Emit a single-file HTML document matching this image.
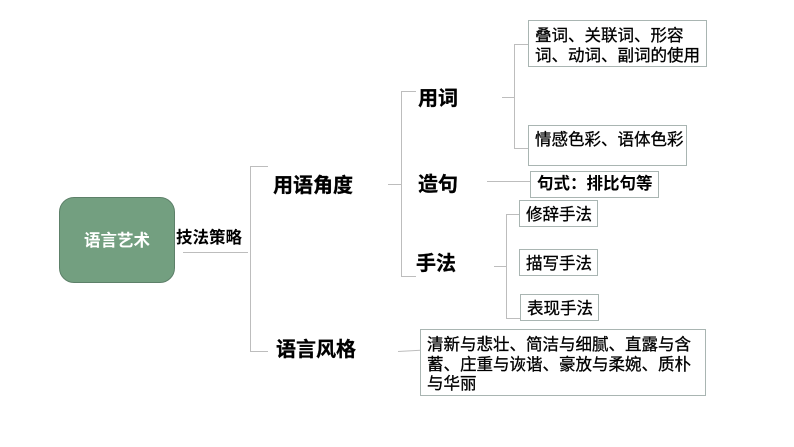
<!DOCTYPE html>
<html lang="zh">
<head>
<meta charset="utf-8">
<style>
html,body{margin:0;padding:0;background:#fff}
#c{position:relative;width:794px;height:447px;overflow:hidden;background:#fff;font-family:"Liberation Sans","Noto Sans CJK SC",sans-serif;color:#000}
.t{position:absolute;white-space:nowrap;line-height:20px;height:20px;font-size:16.5px;-webkit-text-stroke:0.3px currentColor}
.b{font-weight:700;-webkit-text-stroke:0}
.h{font-size:20px;font-weight:700;line-height:24px;height:24px;-webkit-text-stroke:0.3px #000}
.box{position:absolute;box-sizing:border-box;border:1px solid #a9b5b2;background:#fff}
svg{position:absolute;left:0;top:0}
</style>
</head>
<body>
<div id="c">
<svg width="794" height="447" fill="none" stroke="#bdbdbd" stroke-width="1">
<path d="M183 252.500H248"/>
<path d="M268 166.500H250.500V351.500H268"/>
<path d="M416 91.500H401.500V276.500H416"/>
<path d="M388 184.500H401"/>
<path d="M528 44.500H514.500V148.500H528"/>
<path d="M502 97.500H514"/>
<path d="M487 181.500H530"/>
<path d="M519 214.500H506.500V318.500H520"/>
<path d="M494 266.500H506"/>
<path d="M398 351.500L425 350"/>
</svg>
<div style="position:absolute;left:59px;top:197px;width:116px;height:86px;box-sizing:border-box;background:#739f80;border:1px solid #5d8069;border-radius:15px"></div>
<div class="t b" style="left:84px;top:231px;color:#fff">语言艺术</div>
<div class="t b" style="left:176px;top:228px">技法策略</div>
<div class="t h" style="left:273px;top:174px">用语角度</div>
<div class="t h" style="left:276px;top:338px">语言风格</div>
<div class="t h" style="left:418px;top:87px">用词</div>
<div class="t h" style="left:418px;top:173px">造句</div>
<div class="t h" style="left:416px;top:252px">手法</div>

<div class="box" style="left:528px;top:20px;width:179px;height:47px"></div>
<div class="t" style="left:535px;top:26px">叠词、关联词、形容</div>
<div class="t" style="left:535px;top:46px">词、动词、副词的使用</div>

<div class="box" style="left:528px;top:125px;width:159px;height:41px"></div>
<div class="t" style="left:535px;top:130px">情感色彩、语体色彩</div>

<div class="box" style="left:530px;top:171px;width:129px;height:27px"></div>
<div class="t b" style="left:537px;top:174px">句式：排比句等</div>

<div class="box" style="left:519px;top:200px;width:79px;height:27px"></div>
<div class="t" style="left:526px;top:205px">修辞手法</div>

<div class="box" style="left:519px;top:249px;width:79px;height:27px"></div>
<div class="t" style="left:526px;top:254px">描写手法</div>

<div class="box" style="left:520px;top:294px;width:79px;height:27px"></div>
<div class="t" style="left:527px;top:299px">表现手法</div>

<div class="box" style="left:420px;top:329px;width:286px;height:67px"></div>
<div class="t" style="left:427px;top:335px">清新与悲壮、简洁与细腻、直露与含</div>
<div class="t" style="left:427px;top:355px">蓄、庄重与诙谐、豪放与柔婉、质朴</div>
<div class="t" style="left:427px;top:374px">与华丽</div>
</div>
</body>
</html>
